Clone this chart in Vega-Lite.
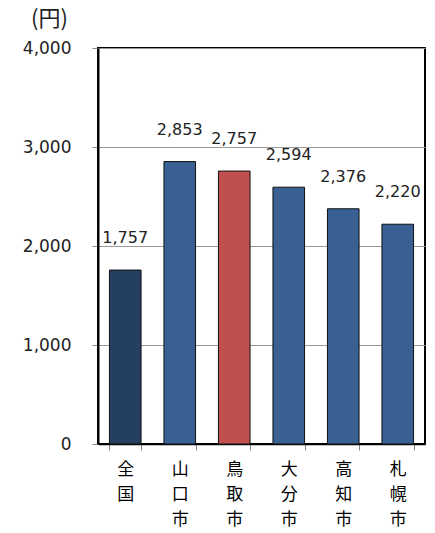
{
  "$schema": "https://vega.github.io/schema/vega-lite/v6.json",
  "autosize": {"type": "none"},
  "padding": {"left": 98, "top": 48, "right": 10, "bottom": 89},
  "width": 327,
  "height": 396,
  "background": "white",
  "config": {
    "view": {"stroke": "#000", "strokeWidth": 2},
    "axis": {"labelFont": "DejaVu Sans", "titleFont": "Noto Sans CJK JP"}
  },
  "data": {
    "values": [
      {"city": "全国", "value": 1757, "group": "全国"},
      {"city": "山口市", "value": 2853, "group": "比較都市"},
      {"city": "鳥取市", "value": 2757, "group": "鳥取市"},
      {"city": "大分市", "value": 2594, "group": "比較都市"},
      {"city": "高知市", "value": 2376, "group": "比較都市"},
      {"city": "札幌市", "value": 2220, "group": "比較都市"}
    ]
  },
  "encoding": {
    "x": {
      "field": "city",
      "type": "nominal",
      "sort": null,
      "scale": {"paddingInner": 0.42, "paddingOuter": 0.21},
      "axis": {
        "title": null,
        "labelAngle": 0,
        "labelExpr": "split(datum.label, '')",
        "labelFont": "Noto Sans CJK JP",
        "labelFontSize": 17,
        "labelLineHeight": 25,
        "labelBaseline": "top",
        "labelColor": "#000",
        "labelPadding": 11,
        "tickBand": "extent",
        "tickSize": 6,
        "tickColor": "#888",
        "domainColor": "#000",
        "domainWidth": 1.5
      }
    },
    "y": {
      "field": "value",
      "type": "quantitative",
      "scale": {"domain": [0, 4000], "nice": false},
      "axis": {
        "values": [0, 1000, 2000, 3000, 4000],
        "format": ",d",
        "labelFontSize": 17,
        "labelColor": "#222",
        "labelPadding": 21,
        "tickSize": 6,
        "tickColor": "#888",
        "gridColor": "#999",
        "gridWidth": 1,
        "domainColor": "#000",
        "domainWidth": 2,
        "title": "(円)",
        "titleAngle": 0,
        "titleAlign": "center",
        "titleBaseline": "middle",
        "titleX": -49,
        "titleY": -30,
        "titleFontSize": 22,
        "titleFontWeight": "normal",
        "titleColor": "#222"
      }
    }
  },
  "layer": [
    {
      "mark": {"type": "bar", "stroke": "#111", "strokeWidth": 1},
      "encoding": {
        "color": {
          "field": "group",
          "type": "nominal",
          "scale": {"domain": ["全国", "比較都市", "鳥取市"], "range": ["#243F60", "#386092", "#C0504D"]},
          "legend": null
        }
      }
    },
    {
      "mark": {"type": "text", "baseline": "middle", "dy": -32, "font": "DejaVu Sans", "fontSize": 16, "color": "#222"},
      "encoding": {
        "text": {"field": "value", "type": "quantitative", "format": ",d"}
      }
    }
  ]
}
